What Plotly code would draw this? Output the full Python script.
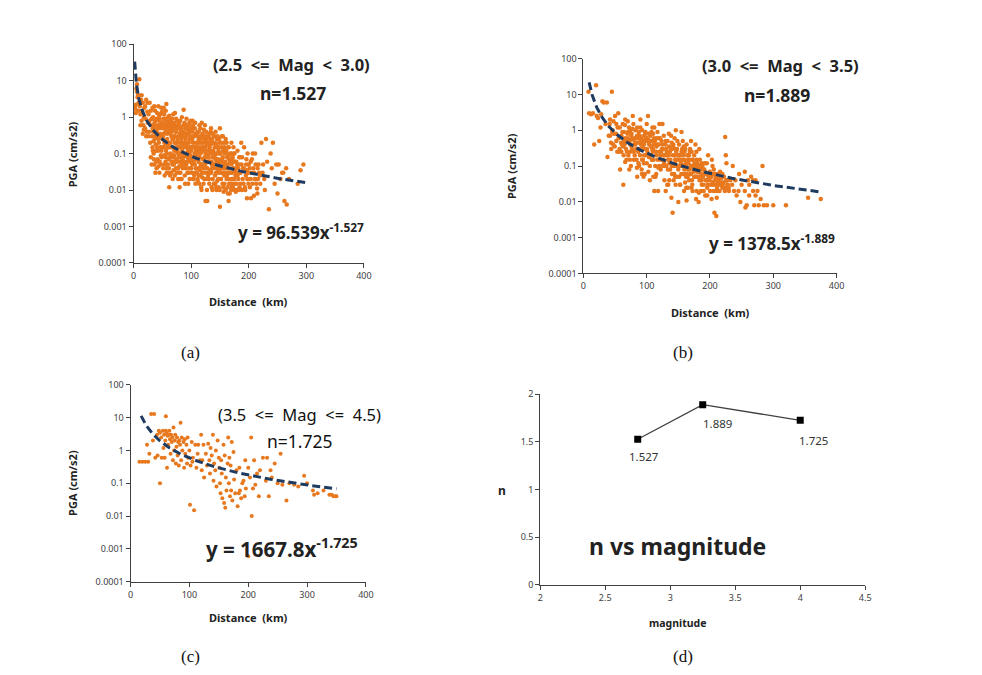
import numpy as np
import plotly.graph_objects as go

W, H = 982, 675

# ---------------- data ----------------
# Panel (a): 2.5 <= Mag < 3.0
a_dist = [1,2,3,4,5,6,7,8,9,10,4,6,8,
 11,12,13,14,15,16,17,18,19,20,21,22,23,24,25,12,16,20,24,18,14,22,
 26,27,28,29,30,31,32,33,34,35,36,37,38,39,40,41,42,43,44,45,46,47,48,49,50,30,35,40,45,28,33,38,44,48,26,32,37,42,46,50,36,41,49,34,43,
 51,52,53,54,55,56,57,58,59,60,61,62,63,64,65,66,67,68,69,70,71,72,73,74,75,76,77,78,79,80,81,82,83,84,85,86,87,88,89,90,91,92,93,94,95,96,97,98,99,100,
 52,55,58,61,64,67,70,73,76,79,82,85,88,91,94,97,100,53,57,63,68,74,78,84,89,93,98,62,80,75,86,95,99,56,66,71,77,83,92,96,54,60,69,81,90,65,72,87,
 101,102,103,104,105,106,107,108,109,110,111,112,113,114,115,116,117,118,119,120,121,122,123,124,125,126,127,128,129,130,131,132,133,134,135,136,137,138,139,140,141,142,143,144,145,146,147,148,149,150,
 102,105,108,111,114,117,120,123,126,129,132,135,138,141,144,147,150,103,107,112,118,122,127,131,136,140,145,149,104,110,116,121,125,133,139,143,148,150,113,119,128,137,146,
 151,152,153,154,155,156,157,158,159,160,161,162,163,164,165,166,167,168,169,170,171,172,173,174,175,176,177,178,179,180,
 152,155,158,161,164,167,170,173,176,179,153,157,162,166,171,175,165,160,
 182,185,188,190,192,195,197,200,202,205,207,210,212,215,218,220,222,225,228,183,187,191,196,199,204,208,213,217,186,194,203,211,184,198,209,216,224,230,232,227,
 235,238,240,242,248,250,252,255,258,262,265,266,270,285,290,295,245,260,
 31.5,33.5,34.5,36.5,37.5,39.5,40.5,41.5,43.5,44.5,46.5,47.5,48.5,49.5,51.5,52.5,53.5,54.5,55.5,56.5,57.5,58.5,59.5,60.5,31.5,35.5,39.5,43.5,47.5,51.5,55.5,59.5,38.5,42.5,46.5,50.5,54.5,58.5,33.5,45.5,53.5,57.5,60.5,36.5,48.5,52.5,56.5,44.5,
 61.5,62.5,63.5,64.5,65.5,66.5,67.5,68.5,69.5,70.5,71.5,72.5,73.5,74.5,75.5,76.5,77.5,78.5,79.5,80.5,81.5,82.5,83.5,84.5,85.5,86.5,87.5,88.5,89.5,90.5,91.5,92.5,93.5,94.5,95.5,96.5,97.5,98.5,99.5,100.5,
 61.5,63.5,65.5,67.5,69.5,71.5,73.5,75.5,77.5,79.5,81.5,83.5,85.5,87.5,89.5,91.5,93.5,95.5,97.5,99.5,
 62.5,66.5,70.5,74.5,78.5,82.5,86.5,90.5,94.5,98.5,64.5,72.5,80.5,88.5,96.5,68.5,76.5,84.5,92.5,100.5,
 101.5,102.5,103.5,104.5,105.5,106.5,107.5,108.5,109.5,110.5,111.5,112.5,113.5,114.5,115.5,116.5,117.5,118.5,119.5,120.5,121.5,122.5,123.5,124.5,125.5,126.5,127.5,128.5,129.5,130.5,131.5,132.5,133.5,134.5,135.5,136.5,137.5,138.5,139.5,140.5,141.5,142.5,143.5,144.5,145.5,146.5,147.5,148.5,149.5,150.5,
 101.5,103.5,105.5,107.5,109.5,111.5,113.5,115.5,117.5,119.5,121.5,123.5,125.5,127.5,129.5,131.5,133.5,135.5,137.5,139.5,141.5,143.5,145.5,147.5,149.5,
 104.5,108.5,112.5,116.5,120.5,124.5,128.5,132.5,136.5,140.5,144.5,148.5,106.5,114.5,126.5,134.5,142.5,102.5,118.5,
 151.5,152.5,153.5,154.5,155.5,156.5,157.5,158.5,159.5,160.5,161.5,162.5,163.5,164.5,165.5,166.5,167.5,168.5,169.5,170.5,171.5,172.5,173.5,174.5,175.5,176.5,177.5,178.5,179.5,180.5,181.5,182.5,183.5,184.5,185.5,187.5,189.5,191.5,193.5,195.5,197.5,199.5,201.5,203.5,206.5,209.5,212.5,215.5,219.5,
 153.5,157.5,161.5,165.5,169.5,173.5,156.5,163.5,171.5,176.5,180.5,188.5,196.5,205.5,214.5]
a_pga = [1.8,2,1.7,2.2,6,5,3.5,1.5,2.5,11,1.3,8,4,
 2,1.2,3,0.8,1.5,2.5,0.6,1,1.8,0.5,0.9,3,0.4,1.4,0.7,0.6,0.35,2,2.5,0.45,4,0.3,
 1.2,0.4,0.8,0.2,1.5,0.6,0.3,0.15,1,0.5,2,0.25,0.8,0.12,0.4,1.3,0.07,0.6,0.2,0.9,0.35,0.05,1.8,0.5,0.15,0.08,0.1,0.04,0.03,2.5,1.8,0.03,0.5,0.3,0.3,0.9,0.6,0.3,1.2,0.7,0.05,0.15,0.08,0.4,2,
 0.3,0.9,0.05,0.5,0.2,1.5,2.3,0.1,0.7,0.03,0.4,1.1,0.15,0.6,0.08,0.3,0.9,0.02,0.25,0.5,0.12,1.3,0.06,0.4,0.2,0.8,0.04,0.3,0.7,0.1,0.5,0.02,0.25,1,0.07,0.35,1.6,0.15,0.6,0.04,0.3,0.9,0.1,0.45,0.015,0.2,0.7,0.06,0.3,0.12,
 0.15,0.6,0.35,0.07,0.2,0.45,0.05,0.2,0.12,0.03,0.4,0.18,0.05,0.6,0.08,0.25,0.04,1.2,0.04,0.8,0.15,0.9,0.08,0.3,0.025,0.5,0.15,0.012,0.012,0.03,0.1,0.35,0.8,0.08,0.06,0.7,0.5,0.06,0.18,0.03,0.025,1,1.2,0.8,0.25,0.5,0.3,0.4,
 0.5,0.05,0.2,0.02,0.3,0.1,0.7,0.04,0.15,0.03,0.4,0.08,0.25,0.015,0.12,0.5,0.05,0.2,0.03,0.35,0.07,0.15,0.02,0.6,0.1,0.04,0.25,0.005,0.08,0.3,0.02,0.15,0.06,0.4,0.03,0.12,0.01,0.2,0.05,0.3,0.08,0.015,0.18,0.04,0.25,0.1,0.02,0.15,0.06,0.5,
 0.25,0.08,0.12,0.02,0.2,0.3,0.05,0.15,0.4,0.03,0.06,0.2,0.04,0.15,0.01,0.07,0.03,0.6,0.03,0.3,0.01,0.45,0.06,0.12,0.05,0.015,0.05,0.2,0.15,0.1,0.025,0.2,0.005,0.25,0.1,0.03,0.012,0.0035,0.06,0.12,0.18,0.35,0.3,
 0.1,0.02,0.15,0.04,0.08,0.012,0.2,0.03,0.06,0.01,0.12,0.025,0.05,0.15,0.02,0.07,0.008,0.1,0.03,0.05,0.012,0.08,0.02,0.04,0.01,0.06,0.025,0.03,0.015,0.05,
 0.06,0.3,0.015,0.04,0.008,0.03,0.2,0.06,0.015,0.04,0.03,0.05,0.1,0.015,0.03,0.1,0.005,0.25,
 0.02,0.08,0.01,0.04,0.15,0.025,0.006,0.05,0.012,0.03,0.1,0.02,0.05,0.008,0.03,0.015,0.2,0.05,0.01,0.05,0.2,0.015,0.07,0.03,0.006,0.04,0.015,0.05,0.03,0.01,0.02,0.1,0.012,0.1,0.007,0.02,0.03,0.25,0.06,0.02,
 0.003,0.1,0.04,0.2,0.05,0.008,0.05,0.02,0.03,0.005,0.04,0.004,0.02,0.015,0.035,0.05,0.015,0.03,
 0.9,0.5,0.22,0.7,1.5,0.35,0.9,0.5,0.25,1.1,0.15,0.6,0.12,1.4,0.6,0.35,0.2,0.9,0.4,0.12,0.7,0.55,0.18,0.45,0.05,0.07,0.06,0.045,0.09,0.04,0.06,0.05,0.18,0.12,0.55,0.25,0.15,0.25,0.12,0.06,0.09,0.03,0.15,0.3,0.7,1.8,0.8,0.8,
 0.2,0.5,0.35,0.1,0.7,0.15,0.25,0.6,0.08,0.3,0.2,0.6,0.4,0.15,0.5,0.25,0.1,0.6,0.2,0.35,0.15,0.08,0.5,0.12,0.3,0.6,0.2,0.3,0.1,0.5,0.15,0.35,0.2,0.04,0.6,0.1,0.15,0.4,0.07,0.25,
 0.04,0.025,0.03,0.05,0.035,0.025,0.04,0.06,0.02,0.045,0.03,0.02,0.04,0.06,0.015,0.05,0.03,0.07,0.02,0.04,
 0.08,0.4,0.09,0.07,0.15,0.2,0.08,0.09,0.12,0.09,0.9,0.12,0.06,0.7,0.5,0.06,0.04,0.05,0.06,0.08,
 0.15,0.4,0.08,0.3,0.15,0.05,0.2,0.35,0.07,0.2,0.12,0.04,0.4,0.08,0.25,0.1,0.15,0.05,0.3,0.12,0.04,0.25,0.08,0.15,0.3,0.06,0.12,0.04,0.2,0.08,0.35,0.03,0.1,0.18,0.06,0.25,0.08,0.12,0.3,0.05,0.2,0.07,0.1,0.15,0.03,0.06,0.12,0.25,0.04,0.1,
 0.03,0.02,0.025,0.015,0.03,0.018,0.025,0.035,0.012,0.022,0.015,0.03,0.02,0.01,0.025,0.015,0.035,0.012,0.02,0.015,0.025,0.012,0.018,0.035,0.01,
 0.06,0.09,0.15,0.045,0.07,0.05,0.09,0.06,0.04,0.09,0.06,0.05,0.5,0.6,0.2,0.5,0.4,0.8,0.7,
 0.04,0.2,0.07,0.015,0.12,0.04,0.025,0.1,0.03,0.05,0.02,0.08,0.012,0.04,0.09,0.03,0.06,0.015,0.1,0.02,0.07,0.012,0.04,0.1,0.02,0.035,0.009,0.06,0.01,0.025,0.04,0.01,0.08,0.03,0.015,0.05,0.02,0.04,0.012,0.05,0.02,0.015,0.04,0.06,0.015,0.03,0.02,0.04,0.025,
 0.3,0.15,0.2,0.15,0.01,0.15,0.009,0.03,0.015,0.01,0.12,0.08,0.035,0.07,0.011]

# Panel (b): 3.0 <= Mag < 3.5
b_dist = [8,9,12,15,17,20,21,23,25,27,28,30,32,35,37,38,40,42,44,45,46,48,50,52,54,55,57,58,60,62,63,65,66,68,70,72,74,76,78,80,82,84,86,88,90,92,94,96,98,100,102,104,106,108,110,112,114,116,118,120,
 42,47,52,56,61,64,67,71,73,77,79,81,83,85,87,89,91,93,95,97,99,101,103,105,107,109,111,113,115,117,119,75,85,95,105,115,70,90,100,110,120,60,88,108,96,82,66,74,76,94,104,112,
 121,122,124,125,126,128,130,131,132,134,135,136,138,139,140,141,142,143,144,145,146,147,148,150,151,152,153,154,155,156,157,158,159,160,161,162,163,164,165,166,167,168,169,170,171,172,173,174,175,176,177,178,179,180,181,182,183,184,185,186,187,188,189,190,192,194,195,196,198,200,202,204,205,207,208,210,211,213,215,216,218,220,222,224,225,226,227,228,230,
 123,127,129,133,137,140,144,148,152,156,160,163,167,171,175,179,183,187,191,197,203,206,209,212,130,150,165,178,155,145,135,125,
 232,235,238,240,242,245,248,250,255,256,258,260,262,265,268,270,272,275,277,280,283,285,290,300,320,355,375,255,268,272,262,246,236,
 41.5,43.5,45.5,47.5,49.5,51.5,53.5,55.5,57.5,59.5,61.5,63.5,65.5,67.5,69.5,71.5,73.5,75.5,77.5,79.5,81.5,83.5,85.5,87.5,89.5,91.5,93.5,95.5,97.5,99.5,101.5,103.5,105.5,107.5,109.5,111.5,113.5,115.5,117.5,119.5,
 72.5,84.5,92.5,102.5,110.5,118.5,64.5,78.5,86.5,98.5,
 121.5,123.5,125.5,127.5,129.5,131.5,133.5,135.5,137.5,139.5,141.5,143.5,145.5,147.5,149.5,151.5,153.5,155.5,157.5,159.5,161.5,163.5,165.5,167.5,169.5,171.5,173.5,175.5,177.5,179.5,181.5,183.5,185.5,187.5,189.5,191.5,193.5,195.5,197.5,199.5,201.5,203.5,205.5,207.5,209.5,211.5,213.5,215.5,217.5,219.5,221.5,223.5,225.5,227.5,229.5,
 132.5,142.5,152.5,162.5,172.5,182.5,192.5,202.5,138.5,148.5,158.5,168.5,178.5,
 62.7,65.7,68.7,70.7,73.7,76.7,79.7,81.7,84.7,87.7,90.7,92.7,95.7,98.7,100.7,103.7,106.7,108.7,111.7,114.7,116.7,119.7,
 122.7,124.7,126.7,128.7,130.7,133.7,136.7,139.7,141.7,144.7,146.7,149.7,151.7,154.7,156.7,159.7,161.7,164.7,166.7,169.7,171.7,174.7,176.7,179.7,181.7,184.7,186.7,189.7,191.7,194.7,196.7,199.7,201.7,204.7,206.7,209.7,212.7,214.7,217.7,219.7,223.7,226.7,
 135.7,145.7,160.7,170.7,185.7,195.7,210.7]
b_pga = [12,3,2.8,3,0.4,18,2.5,2.2,0.5,1.2,2.8,6.5,6,1.5,6,0.18,0.7,2,0.3,12,1,0.8,2.5,0.5,1.2,3,0.3,0.08,0.7,1.5,0.03,0.4,2,0.15,0.6,1.2,0.25,0.8,2.5,0.4,1,0.15,0.6,0.3,1.2,0.08,0.5,0.2,0.9,0.12,2.5,0.4,0.7,0.15,0.3,1.2,0.05,0.6,0.02,0.25,
 0.7,0.4,1.5,0.25,0.4,0.9,0.5,0.2,0.5,0.3,1.5,0.2,0.6,1.2,0.12,0.7,0.4,1,0.3,0.06,0.5,0.25,0.8,0.1,0.35,1.2,0.15,0.5,0.2,0.9,0.4,0.1,0.05,0.05,0.04,0.06,1.8,2,1.5,0.8,1.5,0.25,0.1,0.5,0.7,0.4,0.13,1,0.35,0.15,0.18,0.02,
 0.6,0.08,0.3,1.5,0.15,0.04,0.5,0.1,0.2,0.03,0.8,0.12,0.3,0.013,0.06,0.005,0.4,0.1,0.2,0.05,1,0.15,0.3,0.08,0.4,0.2,0.03,0.12,0.25,0.06,0.5,0.1,0.02,0.15,0.3,0.05,0.011,0.2,0.08,0.12,0.04,0.25,0.06,0.5,0.1,0.03,0.15,0.07,0.2,0.05,0.4,0.09,0.02,0.12,0.05,0.01,0.08,0.15,0.04,0.06,0.03,0.1,0.05,0.02,0.07,0.04,0.12,0.03,0.06,0.02,0.05,0.1,0.03,0.005,0.06,0.004,0.025,0.04,0.02,0.07,0.035,0.03,0.05,0.65,0.2,0.12,0.025,0.03,0.02,
 0.25,0.7,0.2,0.5,0.08,0.3,0.6,0.05,0.1,0.3,0.06,0.4,0.15,0.25,0.05,0.15,0.3,0.12,0.08,0.2,0.15,0.08,0.05,0.06,0.02,0.01,0.025,0.012,0.9,0.15,0.2,0.1,
 0.04,0.03,0.02,0.04,0.015,0.02,0.01,0.03,0.02,0.007,0.008,0.04,0.015,0.05,0.02,0.008,0.015,0.02,0.008,0.012,0.1,0.008,0.008,0.008,0.008,0.013,0.012,0.07,0.04,0.04,0.03,0.06,0.1,
 1.5,0.45,0.9,1.8,0.35,0.8,0.25,0.6,1.2,0.45,0.9,0.2,1.4,0.3,0.8,0.5,0.15,0.7,1.1,0.25,0.6,0.3,0.45,0.9,0.2,0.6,0.35,0.12,0.8,0.3,0.6,0.18,0.5,0.9,0.25,0.4,0.1,0.35,0.15,0.6,
 0.08,0.09,0.06,0.07,0.05,0.09,0.5,0.55,0.25,0.2,
 0.2,0.5,0.3,0.12,0.4,0.25,0.08,0.35,0.15,0.45,0.2,0.06,0.3,0.1,0.2,0.05,0.15,0.1,0.2,0.08,0.12,0.06,0.15,0.08,0.1,0.04,0.09,0.12,0.05,0.07,0.1,0.04,0.08,0.05,0.03,0.06,0.04,0.025,0.05,0.04,0.03,0.06,0.02,0.04,0.03,0.05,0.02,0.03,0.045,0.025,0.035,0.02,0.04,0.03,0.025,
 0.03,0.04,0.03,0.025,0.02,0.018,0.015,0.012,0.7,0.5,0.35,0.3,0.25,
 0.35,0.6,0.25,0.9,0.4,0.6,0.15,0.45,0.7,0.3,0.5,0.15,0.4,0.6,0.3,0.45,0.2,0.3,0.6,0.25,0.4,0.1,
 0.15,0.4,0.2,0.1,0.3,0.15,0.25,0.1,0.35,0.12,0.25,0.15,0.2,0.06,0.15,0.25,0.1,0.05,0.2,0.06,0.15,0.08,0.1,0.05,0.07,0.1,0.04,0.08,0.12,0.06,0.03,0.07,0.05,0.035,0.06,0.02,0.035,0.05,0.03,0.06,0.025,0.04,
 0.04,0.03,0.035,0.025,0.02,0.015,0.013]

# Panel (c): 3.5 <= Mag <= 4.5
c_dist = [15,20,25,30,28,32,35,40,38,42,45,46,48,50,50,52,53,55,56,57,58,59,60,60,61,62,63,64,65,66,67,68,69,70,71,72,73,74,75,76,77,78,79,80,81,82,83,84,85,86,87,88,90,91,92,93,95,96,97,98,100,102,104,105,106,108,101,
 110,112,114,115,118,120,121,122,124,125,128,130,132,134,135,136,138,140,141,142,144,145,146,148,150,151,152,153,154,155,156,158,159,160,161,162,163,165,166,167,168,169,170,171,172,173,175,176,178,180,182,184,185,186,188,190,192,194,195,196,
 200,200,203,205,206,208,210,212,215,218,220,225,230,232,235,238,240,245,250,255,258,265,270,278,285,295,300,310,312,318,328,338,342,345,348,350]
c_pga = [0.45,0.45,0.45,0.45,1.5,0.8,13,13,2,0.6,3,0.7,4,0.1,3.5,2.5,0.6,4,1.2,3,0.6,2,11,4,3.5,0.3,2.8,1.5,3,4,2.2,0.8,3,1.8,2.5,0.5,5,1,2,3,0.4,1.3,2.5,0.7,1.8,0.35,2,1.5,7,0.5,2.5,1,1.8,0.3,2.2,0.8,1.5,0.4,2.5,0.6,1,0.35,1.8,0.45,0.6,0.015,0.022,
 1.5,0.3,0.8,1.5,0.5,3,0.25,0.5,1.5,0.15,0.8,0.35,1.6,0.5,0.2,1.2,0.7,3,0.12,0.4,0.25,1,0.08,2,0.6,0.3,0.1,0.05,0.5,0.2,0.035,1.5,0.025,0.7,0.018,0.15,0.06,0.4,2.5,0.1,0.6,0.04,0.35,0.06,1.8,0.03,0.9,0.13,0.05,0.25,0.02,0.05,0.3,0.06,0.035,0.1,0.12,0.04,0.5,0.07,
 0.3,0.0006,0.15,2.5,0.01,0.07,0.5,0.09,0.2,0.04,0.25,0.6,0.12,0.6,0.04,0.25,0.15,0.4,0.1,0.8,0.09,0.03,0.1,0.09,0.08,0.17,0.1,0.06,0.045,0.05,0.06,0.045,0.045,0.04,0.04,0.04]

# Power-law trend lines y = coef * x^(-n), with the x span of each fitted line
fit_coef = [96.539, 1378.5, 1667.8]
fit_n = [1.527, 1.889, 1.725]
fit_xmin = [2, 9, 18]
fit_xmax = [300, 375, 350]

# Panel (d): n vs magnitude
mag = [2.75, 3.25, 4.0]
n_vals = [1.527, 1.889, 1.725]

# ---------------- styling ----------------
ORANGE = "#E8781E"
NAVY = "#1F3B5F"
AX = "#404040"
SANS = "Noto Sans"
SERIF = "Liberation Serif"
NB = "\u00a0"

def px(x):
    return x / W

def py(y):
    return 1 - y / H

fig = go.Figure()

panels = [
    (a_dist, a_pga, (132, 365), (38, 261), 4.5),
    (b_dist, b_pga, (587, 843), (52.7, 271.7), 4.5),
    (c_dist, c_pga, (129, 367), (385.3, 586), 4),
]

log_ticks = [0.0001, 0.001, 0.01, 0.1, 1, 10, 100]
log_text = ["0.0001", "0.001", "0.01", "0.1", "1", "10", "100"]

for i, (xd, yd, (x0, x1), (y0, y1), ms) in enumerate(panels):
    k = "" if i == 0 else str(i + 1)
    fig.add_trace(go.Scatter(x=xd, y=yd, mode="markers", xaxis="x" + k, yaxis="y" + k,
                             marker=dict(color=ORANGE, size=ms, line=dict(width=0)),
                             hoverinfo="skip"))
    xs = np.geomspace(fit_xmin[i], fit_xmax[i], 200)
    fig.add_trace(go.Scatter(x=xs, y=fit_coef[i] * xs ** (-fit_n[i]), mode="lines",
                             xaxis="x" + k, yaxis="y" + k,
                             line=dict(color=NAVY, width=3, dash="8px,4px"),
                             hoverinfo="skip"))
    fig.update_layout(**{
        "xaxis" + k: dict(domain=[px(x0), px(x1)], anchor="y" + k, range=[0, 400],
                          tickvals=[0, 100, 200, 300, 400], showline=True, linecolor=AX,
                          linewidth=1, ticks="outside", ticklen=4, tickcolor=AX,
                          showgrid=False, zeroline=False,
                          tickfont=dict(family=SANS, size=9, color="#404040")),
        "yaxis" + k: dict(domain=[py(y1), py(y0)], anchor="x" + k, type="log", range=[-4, 2],
                          tickvals=log_ticks, ticktext=log_text, showline=True, linecolor=AX,
                          linewidth=1, ticks="outside", ticklen=4, tickcolor=AX,
                          showgrid=False, zeroline=False,
                          tickfont=dict(family=SANS, size=9, color="#404040")),
    })

# panel (d)
fig.add_trace(go.Scatter(x=mag, y=n_vals, mode="lines+markers", xaxis="x4", yaxis="y4",
                         line=dict(color="#404040", width=1.3),
                         marker=dict(symbol="square", size=7, color="black"),
                         hoverinfo="skip"))
fig.update_layout(
    xaxis4=dict(domain=[px(543.3), px(872)], anchor="y4", range=[2, 4.5],
                tickvals=[2, 2.5, 3, 3.5, 4, 4.5], ticktext=["2", "2.5", "3", "3.5", "4", "4.5"],
                showline=True, linecolor=AX, linewidth=1, ticks="outside", ticklen=4,
                tickcolor=AX, showgrid=False, zeroline=False,
                tickfont=dict(family=SANS, size=9, color="#404040")),
    yaxis4=dict(domain=[py(589.3), py(394.7)], anchor="x4", range=[0, 2],
                tickvals=[0, 0.5, 1, 1.5, 2], ticktext=["0", "0.5", "1", "1.5", "2"],
                showline=True, linecolor=AX, linewidth=1, ticks="outside", ticklen=4,
                tickcolor=AX, showgrid=False, zeroline=False,
                tickfont=dict(family=SANS, size=9, color="#404040")),
)

ann = []

def add(text, x, y, size, bold=True, family=SANS, color="#222222", angle=0):
    ann.append(dict(text=("<b>%s</b>" % text) if bold else text, x=px(x), y=py(y),
                    xref="paper", yref="paper", showarrow=False, xanchor="center",
                    yanchor="middle", textangle=angle,
                    font=dict(family=family, size=size, color=color)))

S2 = NB + NB
# panel (a)
add("(2.5" + S2 + "&lt;=" + S2 + "Mag" + S2 + "&lt;" + S2 + "3.0)", 292, 59, 16.5)
add("n=1.527", 293, 88, 17.5)
add("y = 96.539x<sup>-1.527</sup>", 301, 229, 17)
add("PGA (cm/s2)", 70, 150, 11, angle=-90)
add("Distance" + S2 + "(km)", 248, 300, 11)
# panel (b)
add("(3.0" + S2 + "&lt;=" + S2 + "Mag" + S2 + "&lt;" + S2 + "3.5)", 786, 60, 16.5)
add("n=1.889", 783, 90, 17.5)
add("y = 1378.5x<sup>-1.889</sup>", 778, 240, 17)
add("PGA (cm/s2)", 515, 162, 11, angle=-90)
add("Distance" + S2 + "(km)", 716, 312, 11)
# panel (c)
add("(3.5" + S2 + "&lt;=" + S2 + "Mag" + S2 + "&lt;=" + S2 + "4.5)", 300, 415, 16.5, bold=False, color="#111111")
add("n=1.725", 300, 443, 17.5, bold=False, color="#111111")
add("y = 1667.8x<sup>-1.725</sup>", 282, 552, 20.5)
add("PGA (cm/s2)", 70, 485, 11, angle=-90)
add("Distance" + S2 + "(km)", 248, 622, 11)
# panel (d)
add("n vs magnitude", 682, 550, 23)
add("n", 505, 493, 12)
add("magnitude", 682, 628, 10.5)
add("1.527", 648, 458, 11.5, bold=False, color="#333333")
add("1.889", 723, 425, 11.5, bold=False, color="#333333")
add("1.725", 820, 442, 11.5, bold=False, color="#333333")
# sub-figure labels
add("(a)", 190, 352, 17, bold=False, family=SERIF, color="#111111")
add("(b)", 688, 352, 17, bold=False, family=SERIF, color="#111111")
add("(c)", 190, 662, 17, bold=False, family=SERIF, color="#111111")
add("(d)", 688, 662, 17, bold=False, family=SERIF, color="#111111")

fig.update_layout(width=W, height=H, margin=dict(l=0, r=0, t=0, b=0),
                  paper_bgcolor="white", plot_bgcolor="white", showlegend=False,
                  annotations=ann)

fig.write_html("out.html")
